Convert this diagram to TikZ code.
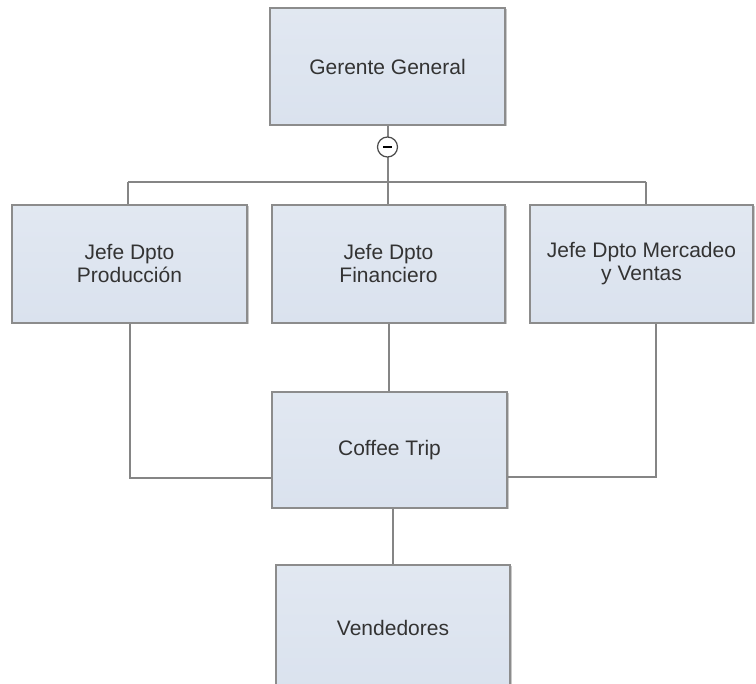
\documentclass[tikz,border=0pt]{standalone}
\usepackage{fontspec}
\setmainfont{Liberation Sans}
\usepackage{tikz}
\usetikzlibrary{shadows}
\definecolor{boxfill}{HTML}{DAE2EE}
\definecolor{boxline}{HTML}{8C8C8C}
\definecolor{wire}{HTML}{858585}
\tikzset{
	cargo/.style={draw=boxline, line width=1.5pt, top color=boxfill!80!white, bottom color=boxfill,
		minimum width=235pt, minimum height=118pt, align=center, text=black!80,
		font=\fontsize{21}{23}\selectfont,
		drop shadow={shadow xshift=1.5pt, shadow yshift=-1.5pt, opacity=0.35, fill=black!60}},
	wireline/.style={draw=wire, line width=2pt}
}

\begin{document}
\begin{tikzpicture}[x=1pt, y=-1pt]
			%%%%% START %%%%%
			\useasboundingbox[fill=white] (0, 0) rectangle (756, 684);
			\clip (0, 0) rectangle (756, 684);
			
			\node[cargo, minimum height=117pt] (gerente) at (387.5, 66.5) {Gerente General};
			
			\node[cargo] (prod) at (129.5, 264) {Jefe Dpto\\Producción};
			\node[cargo, minimum width=233pt] (fin) at (388.5, 264) {Jefe Dpto\\Financiero};
			\node[cargo, minimum width=223pt] (merc) at (641.5, 264) {Jefe Dpto Mercadeo\\y Ventas};
			
			\node[cargo, minimum height=116pt] (coffee) at (389.5, 450) {Coffee Trip};
			\node[cargo, minimum width=234pt, minimum height=125pt] (vend) at (393, 627.5) {Vendedores};
			
			\coordinate (busL) at (128, 182);
			\coordinate (busR) at (646, 182);
			
			% top level
			\draw[wireline] (gerente.south) -- (gerente.south |- busL);
			\draw[wireline] (busL) -- (busR);
			\draw[wireline] (busL) -- (busL |- prod.north);
			\draw[wireline] (gerente.south |- busL) -- (gerente.south |- fin.north);
			\draw[wireline] (busR) -- (busR |- merc.north);
			\node[circle, draw=black!70, line width=1.2pt, fill=white, minimum size=20pt, inner sep=0pt] (toggle) at (387.5, 147) {\rule{9pt}{1.6pt}};
			
			% middle level
			\draw[wireline] (fin.south) -- (fin.south |- coffee.north);
			\draw[wireline] (prod.south) |- ([yshift=-28pt]coffee.west);
			\draw[wireline] ([xshift=14.5pt]merc.south) |- ([yshift=-27pt]coffee.east);
			
			% bottom
			\draw[wireline] (vend.north |- coffee.south) -- (vend.north);
			%%%%% END %%%%%
\end{tikzpicture}
\end{document}
